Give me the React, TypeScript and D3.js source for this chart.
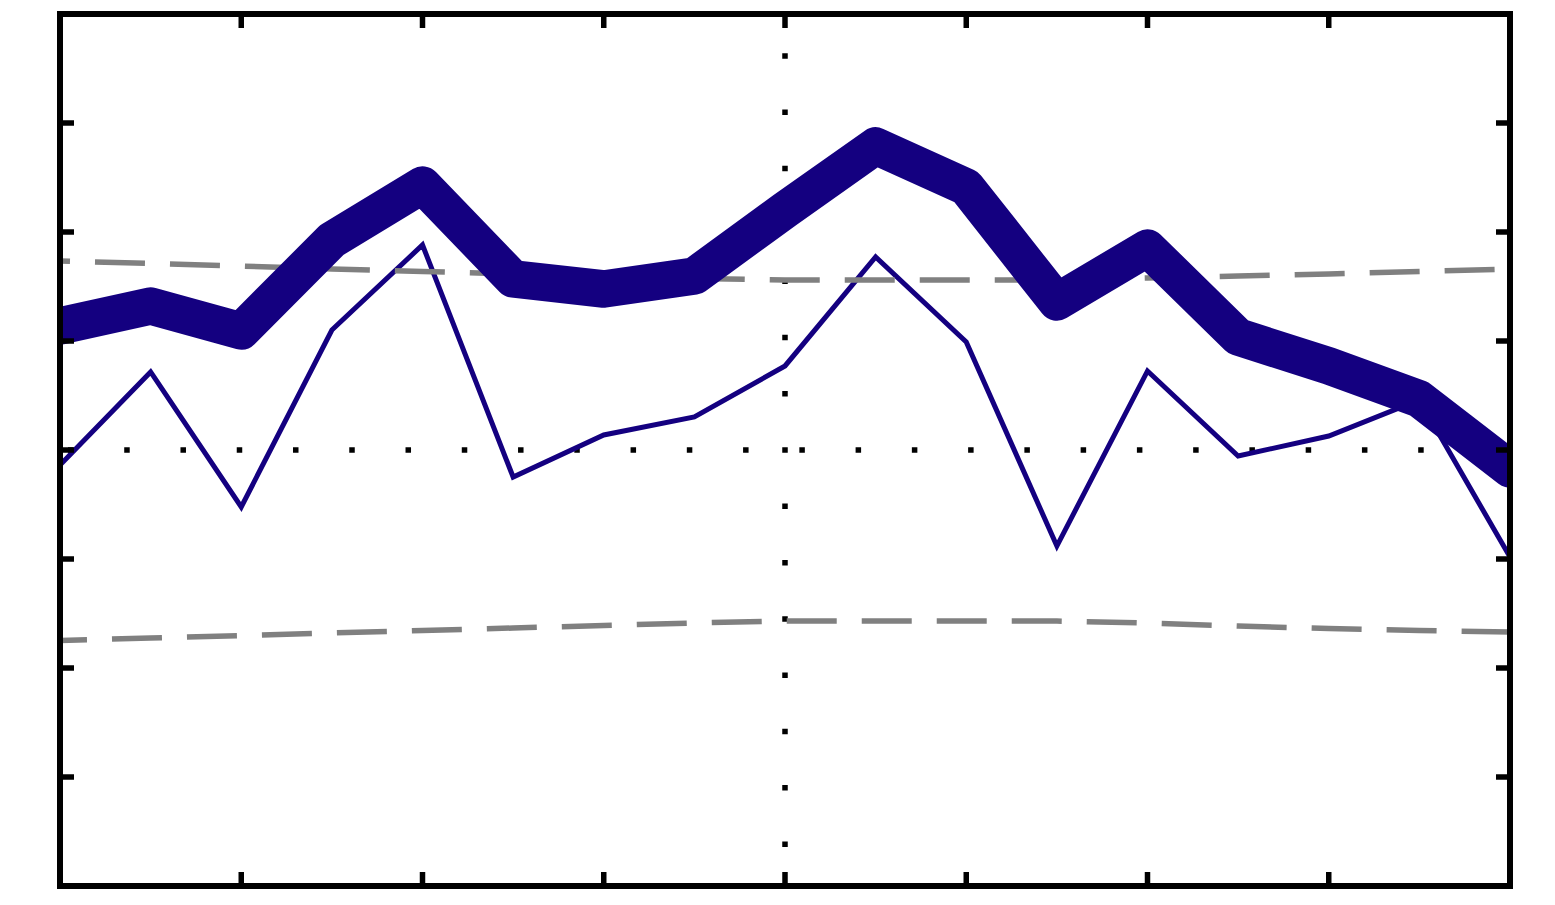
import React from "react";
import * as d3 from "d3";

const xValues = [-8, -7, -6, -5, -4, -3, -2, -1, 0, 1, 2, 3, 4, 5, 6, 7, 8];
const thickSeries = [1.138, 1.321, 1.092, 1.927, 2.431, 1.569, 1.477, 1.596, 2.202, 2.789, 2.413, 1.358, 1.853, 1.037, 0.771, 0.468, -0.174];
const thinSeries = [-0.138, 0.716, -0.523, 1.101, 1.881, -0.248, 0.138, 0.303, 0.771, 1.771, 0.991, -0.881, 0.725, -0.055, 0.128, 0.459, -0.982];
const upperBand = [1.734, 1.711, 1.688, 1.661, 1.638, 1.615, 1.592, 1.573, 1.56, 1.56, 1.56, 1.56, 1.578, 1.596, 1.615, 1.638, 1.661];
const lowerBand = [-1.748, -1.725, -1.702, -1.679, -1.656, -1.633, -1.61, -1.587, -1.569, -1.569, -1.569, -1.569, -1.587, -1.615, -1.638, -1.656, -1.67];
const xTicks = [-6, -4, -2, 0, 2, 4, 6];
const yTicks = [-3, -2, -1, 0, 1, 2, 3];
const xDomain = [-8, 8];
const yDomain = [-4, 4];

export default function App() {
  const x = d3.scaleLinear().domain(xDomain).range([60, 1510]);
  const y = d3.scaleLinear().domain(yDomain).range([886, 14]);
  const line = d3
    .line<number>()
    .x((_, i) => x(xValues[i]))
    .y((d) => y(d));
  const navy = "#140080";
  const tickLen = 14;
  return (
    <svg
      width={1555}
      height={905}
      style={{ position: "absolute", left: 0, top: 0, background: "#fff" }}
    >
      <defs>
        <clipPath id="plot">
          <rect x={x(-8)} y={y(4)} width={x(8) - x(-8)} height={y(-4) - y(4)} />
        </clipPath>
      </defs>
      <rect width={1555} height={905} fill="#fff" />
      <g clipPath="url(#plot)">
        <line
          x1={x(-8)}
          x2={x(8)}
          y1={y(0)}
          y2={y(0)}
          stroke="#000"
          strokeWidth={5.5}
          strokeDasharray="5.5 50.76"
          strokeDashoffset={48.3}
        />
        <line
          x1={x(0)}
          x2={x(0)}
          y1={y(4)}
          y2={y(-4)}
          stroke="#000"
          strokeWidth={5.5}
          strokeDasharray="5.5 50.8"
          strokeDashoffset={17.1}
        />
        <path
          d={line(thinSeries) || ""}
          fill="none"
          stroke={navy}
          strokeWidth={5}
          strokeLinejoin="miter"
        />
        <path
          d={line(upperBand) || ""}
          fill="none"
          stroke="#808080"
          strokeWidth={5.5}
          strokeDasharray="50 25"
          strokeDashoffset={40}
        />
        <path
          d={line(lowerBand) || ""}
          fill="none"
          stroke="#808080"
          strokeWidth={5.5}
          strokeDasharray="50 25"
          strokeDashoffset={23}
        />
        <path
          d={line(thickSeries) || ""}
          fill="none"
          stroke={navy}
          strokeWidth={37.5}
          strokeLinejoin="round"
          strokeLinecap="round"
        />
      </g>
      <g stroke="#000" strokeWidth={5.5}>
        {xTicks.map((t) => (
          <g key={"x" + t}>
            <line x1={x(t)} x2={x(t)} y1={y(4)} y2={y(4) + tickLen} />
            <line x1={x(t)} x2={x(t)} y1={y(-4)} y2={y(-4) - tickLen} />
          </g>
        ))}
        {yTicks.map((t) => (
          <g key={"y" + t}>
            <line x1={x(-8)} x2={x(-8) + tickLen} y1={y(t)} y2={y(t)} />
            <line x1={x(8)} x2={x(8) - tickLen} y1={y(t)} y2={y(t)} />
          </g>
        ))}
      </g>
      <rect
        x={x(-8)}
        y={y(4)}
        width={x(8) - x(-8)}
        height={y(-4) - y(4)}
        fill="none"
        stroke="#000"
        strokeWidth={6}
      />
    </svg>
  );
}
